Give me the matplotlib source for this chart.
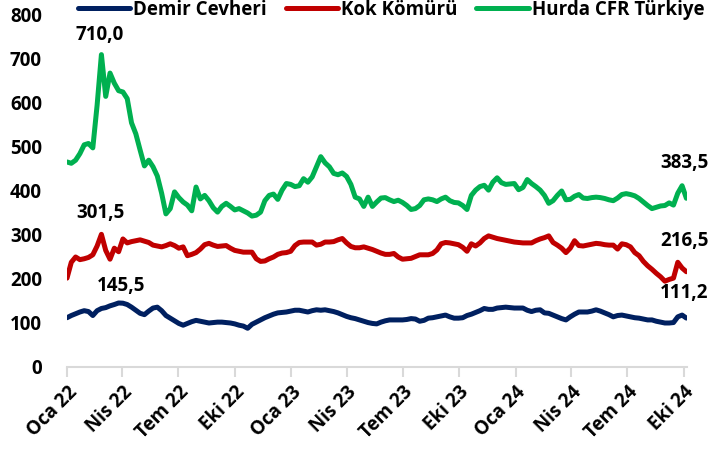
import pandas as pd
import matplotlib
matplotlib.use("Agg")
import matplotlib.pyplot as plt

# weekly observations, USD/ton, starting 2022-01-01
start_date = "2022-01-01"

demir_cevheri = [
    112, 117, 121, 125, 128, 126, 117, 128, 133, 135, 139, 142, 145.5, 145, 142, 136,
    129, 122, 119, 127, 134, 136, 128, 117, 111, 105, 99, 95, 99, 103, 106, 104,
    102, 100, 101, 102, 102, 101, 100, 98, 95, 93, 88, 97, 102, 107, 112, 116,
    120, 123, 124, 125, 127, 129, 129, 127, 125, 128, 130, 129, 130, 128, 126, 123,
    119, 115, 112, 110, 107, 104, 101, 99, 98, 102, 105, 107, 107, 107, 107, 108,
    110, 109, 104, 106, 111, 112, 114, 116, 118, 114, 111, 111, 112, 117, 120, 124,
    128, 133, 131, 131, 134, 135, 136, 135, 134, 134, 134, 129, 126, 129, 130, 123,
    122, 118, 114, 110, 107, 114, 120, 125, 125, 125, 127, 130, 127, 123, 119, 114,
    117, 118, 116, 114, 112, 111, 109, 107, 107, 104, 102, 100, 100, 101, 114, 118,
    111.2,
]

kok_komuru = [
    202, 238, 250, 244, 246, 249, 255, 275, 301.5, 265, 245, 270, 262, 291, 282, 285,
    287, 289, 286, 283, 277, 275, 273, 276, 280, 276, 270, 273, 253, 256, 260, 268,
    278, 281, 277, 274, 275, 276, 270, 265, 263, 261, 261, 261, 246, 240, 241, 246,
    250, 256, 259, 260, 263, 276, 283, 284, 284, 284, 277, 279, 284, 284, 285, 289,
    292, 282, 274, 271, 271, 273, 270, 267, 263, 259, 256, 256, 258, 250, 245, 246,
    247, 251, 255, 255, 255, 258, 266, 280, 283, 282, 280, 278, 272, 263, 280, 275,
    282, 292, 298, 295, 292, 290, 288, 286, 284, 283, 282, 282, 282, 287, 291, 294,
    298, 283, 277, 270, 260, 270, 287, 276, 275, 277, 279, 281, 280, 278, 277, 277,
    268, 280, 278, 273, 260, 253, 240, 230, 222, 213, 205, 195, 199, 202, 238, 225,
    216.5,
]

hurda_cfr = [
    466, 463, 470, 485, 505, 508, 498, 595, 710, 615, 668, 645, 628, 625, 610, 555,
    530, 493, 457, 470, 455, 434, 395, 348, 360, 398, 385, 375, 368, 355, 409, 382,
    390, 378, 362, 352, 365, 372, 365, 357, 360, 355, 350, 343, 345, 352, 378, 390,
    393, 381, 402, 417, 415, 410, 412, 428, 420, 432, 455, 478, 464, 455, 440, 437,
    441, 433, 415, 386, 382, 365, 386, 365, 375, 384, 385, 380, 376, 379, 374, 367,
    358, 360, 367, 380, 382, 380, 376, 382, 386, 378, 374, 373, 367, 358, 390, 402,
    410, 413, 402, 420, 430, 419, 415, 416, 417, 403, 408, 426, 417, 410, 402, 390,
    372, 378, 390, 400, 380, 381, 388, 392, 384, 383, 385, 386, 385, 383, 380, 378,
    384, 392, 394, 392, 389, 383, 375, 367, 360, 363, 366, 367, 373, 368, 395, 412,
    383.5,
]

tick_labels = ["Oca 22", "Nis 22", "Tem 22", "Eki 22", "Oca 23", "Nis 23",
               "Tem 23", "Eki 23", "Oca 24", "Nis 24", "Tem 24", "Eki 24"]

dates = pd.date_range(start_date, periods=len(hurda_cfr), freq="7D")
assert len(dates) == len(kok_komuru) == len(demir_cevheri)

W = "bold"
FS = 13.5
plt.rcParams["font.family"] = ["Open Sans", "DejaVu Sans"]
plt.rcParams["font.weight"] = W

fig = plt.figure(figsize=(7.19, 4.63), dpi=100)
ax = fig.add_axes([67 / 719, 1 - 367 / 463, 620 / 719, 352 / 463])

blue = "#002060"
red = "#C00000"
green = "#00B050"
lw = 3.6

ax.plot(dates, demir_cevheri, color=blue, lw=lw, label="Demir Cevheri", solid_capstyle="round")
ax.plot(dates, kok_komuru, color=red, lw=lw, label="Kok Kömürü", solid_capstyle="round")
ax.plot(dates, hurda_cfr, color=green, lw=lw, label="Hurda CFR Türkiye", solid_capstyle="round")

ax.set_ylim(0, 800)
ax.set_yticks(range(0, 801, 100))
ax.set_xlim(pd.Timestamp("2022-01-01"), pd.Timestamp("2024-10-06"))

tick_dates = pd.date_range("2022-01-01", periods=len(tick_labels), freq="QS")
ax.set_xticks(tick_dates)
ax.set_xticklabels(tick_labels, rotation=45, ha="right", rotation_mode="anchor")

for s in ["top", "right", "left"]:
    ax.spines[s].set_visible(False)
ax.spines["bottom"].set_color("#d9d9d9")
ax.spines["bottom"].set_linewidth(1.5)
ax.tick_params(axis="x", direction="out", length=7, width=1.5, color="#d9d9d9",
               labelsize=FS, pad=4)
ax.tick_params(axis="y", length=0, labelsize=FS, pad=18)
for lab in ax.get_xticklabels() + ax.get_yticklabels():
    lab.set_fontweight(W)

def fmt(v):
    return f"{v:.1f}".replace(".", ",")

def label_point(series, idx, dx, dy):
    ax.annotate(fmt(series[idx]), (dates[idx], series[idx]), xytext=(dx, dy),
                textcoords="offset pixels", ha="center", va="center",
                fontsize=FS, fontweight=W, color="black")

label_point(hurda_cfr, hurda_cfr.index(max(hurda_cfr)), -2, 20)
label_point(kok_komuru, kok_komuru.index(max(kok_komuru)), -1, 21)
label_point(demir_cevheri, demir_cevheri.index(max(demir_cevheri)), 2, 17)
label_point(hurda_cfr, len(hurda_cfr) - 1, -2, 35)
label_point(kok_komuru, len(kok_komuru) - 1, -2, 31)
label_point(demir_cevheri, len(demir_cevheri) - 1, -2, 25)

fig.legend(loc="center", bbox_to_anchor=(391 / 719, 1 - 10 / 463), ncol=3,
           frameon=False, prop={"size": FS, "weight": W}, handlelength=2.8,
           handletextpad=0.15, columnspacing=1.0, borderaxespad=0, borderpad=0)

fig.savefig("out.png", dpi=100)
